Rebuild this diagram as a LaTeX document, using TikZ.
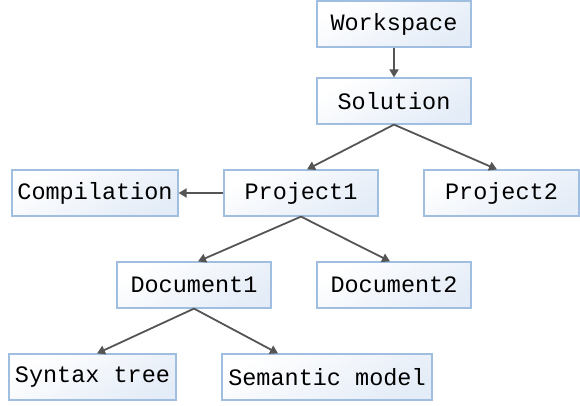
\documentclass[tikz,border=0pt]{standalone}
\usepackage{fontspec}
\setmonofont{Liberation Mono}
\usetikzlibrary{arrows.meta}
\definecolor{boxline}{RGB}{160,190,224}
\definecolor{boxfill}{RGB}{228,236,247}
\definecolor{arrowgray}{RGB}{85,85,85}
\begin{document}
\begin{tikzpicture}[x=1pt,y=-1pt,
  box/.style={draw=boxline, line width=1.2pt, top color=white, bottom color=boxfill,
    shading angle=30, minimum height=46pt, inner sep=0pt,
    font=\ttfamily\fontsize{23.5}{28}\selectfont, text=black},
  conn/.style={draw=arrowgray, line width=1.8pt, -{Triangle[length=8pt,width=9pt]}}]
\useasboundingbox (0,0) rectangle (580,406);
\node[box, minimum width=154pt] (ws) at (394,24) {Workspace};
\node[box, minimum width=154pt] (sol) at (394,101) {Solution};
\node[box, minimum width=166pt] (comp) at (95,193) {Compilation};
\node[box, minimum width=154pt] (p1) at (301,193) {Project1};
\node[box, minimum width=155pt] (p2) at (501.5,193) {Project2};
\node[box, minimum width=154pt] (d1) at (194,285) {Document1};
\node[box, minimum width=154pt] (d2) at (394,285) {Document2};
\node[box, minimum width=167pt] (st) at (92.5,377) {Syntax tree};
\node[box, minimum width=210pt] (sm) at (327,377) {Semantic model};
\draw[conn] (ws.south) -- (sol.north);
\draw[conn] (sol.south) -- ([xshift=6pt]p1.north);
\draw[conn] (sol.south) -- ([xshift=-4.5pt]p2.north);
\draw[conn] (p1.west) -- (comp.east);
\draw[conn] (p1.south) -- ([xshift=4pt]d1.north);
\draw[conn] (p1.south) -- ([xshift=-4pt]d2.north);
\draw[conn] (d1.south) -- ([xshift=4.5pt]st.north);
\draw[conn] (d1.south) -- ([xshift=-49pt]sm.north);
\end{tikzpicture}
\end{document}
